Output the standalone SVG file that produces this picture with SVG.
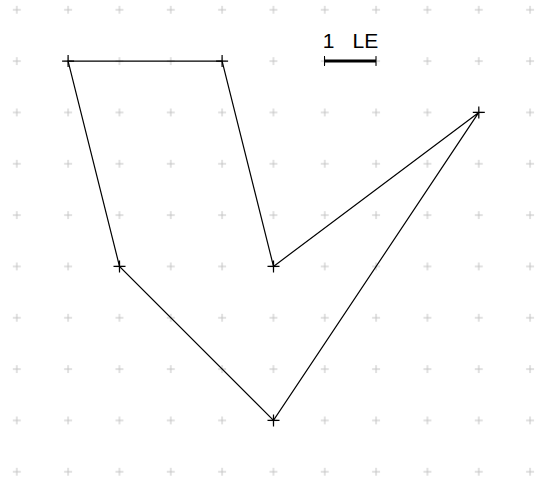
<svg xmlns="http://www.w3.org/2000/svg" width="536" height="479" viewBox="0 0 536 479">
<style>
.grid{stroke:#c4c4c4;stroke-width:1;fill:none}
.edge{stroke:#000;stroke-width:1.2;fill:none}
.vx{stroke:#000;stroke-width:1.2;fill:none}
.lbl{font-family:"Liberation Sans",Arial,sans-serif;font-size:21px;fill:#000}
</style>
<defs>
<pattern id="gp" width="51.33" height="51.33" patternUnits="userSpaceOnUse" x="-8.87" y="-15.87">
<path class="grid" d="M21.67 25.67h8M25.67 21.67v8"/>
</pattern>
<path id="vc" class="vx" d="M-6 0h12M0 -6v12"/>
</defs>
<rect width="536" height="479" fill="#fff"/>
<rect width="536" height="479" fill="url(#gp)"/>
<g id="connectors">
<polygon class="edge" points="68.1,61.1 222.1,61.1 273.5,266.4 478.8,112.4 273.5,420.4 119.5,266.4"/>
</g>
<g id="v1"><use href="#vc" x="68.1" y="61.1"/></g>
<g id="v2"><use href="#vc" x="222.1" y="61.1"/></g>
<g id="v3"><use href="#vc" x="273.5" y="266.4"/></g>
<g id="v4"><use href="#vc" x="478.8" y="112.4"/></g>
<g id="v5"><use href="#vc" x="273.5" y="420.4"/></g>
<g id="v6"><use href="#vc" x="119.5" y="266.4"/></g>
<g id="scale">
<line x1="324.5" y1="61" x2="376" y2="61" stroke="#000" stroke-width="3"/>
<line x1="324.5" y1="56" x2="324.5" y2="66" stroke="#000" stroke-width="1"/>
<line x1="376" y1="56" x2="376" y2="66" stroke="#000" stroke-width="1"/>
<text class="lbl" x="322.7" y="47.5">1<tspan x="352.5">LE</tspan></text>
</g>
</svg>
